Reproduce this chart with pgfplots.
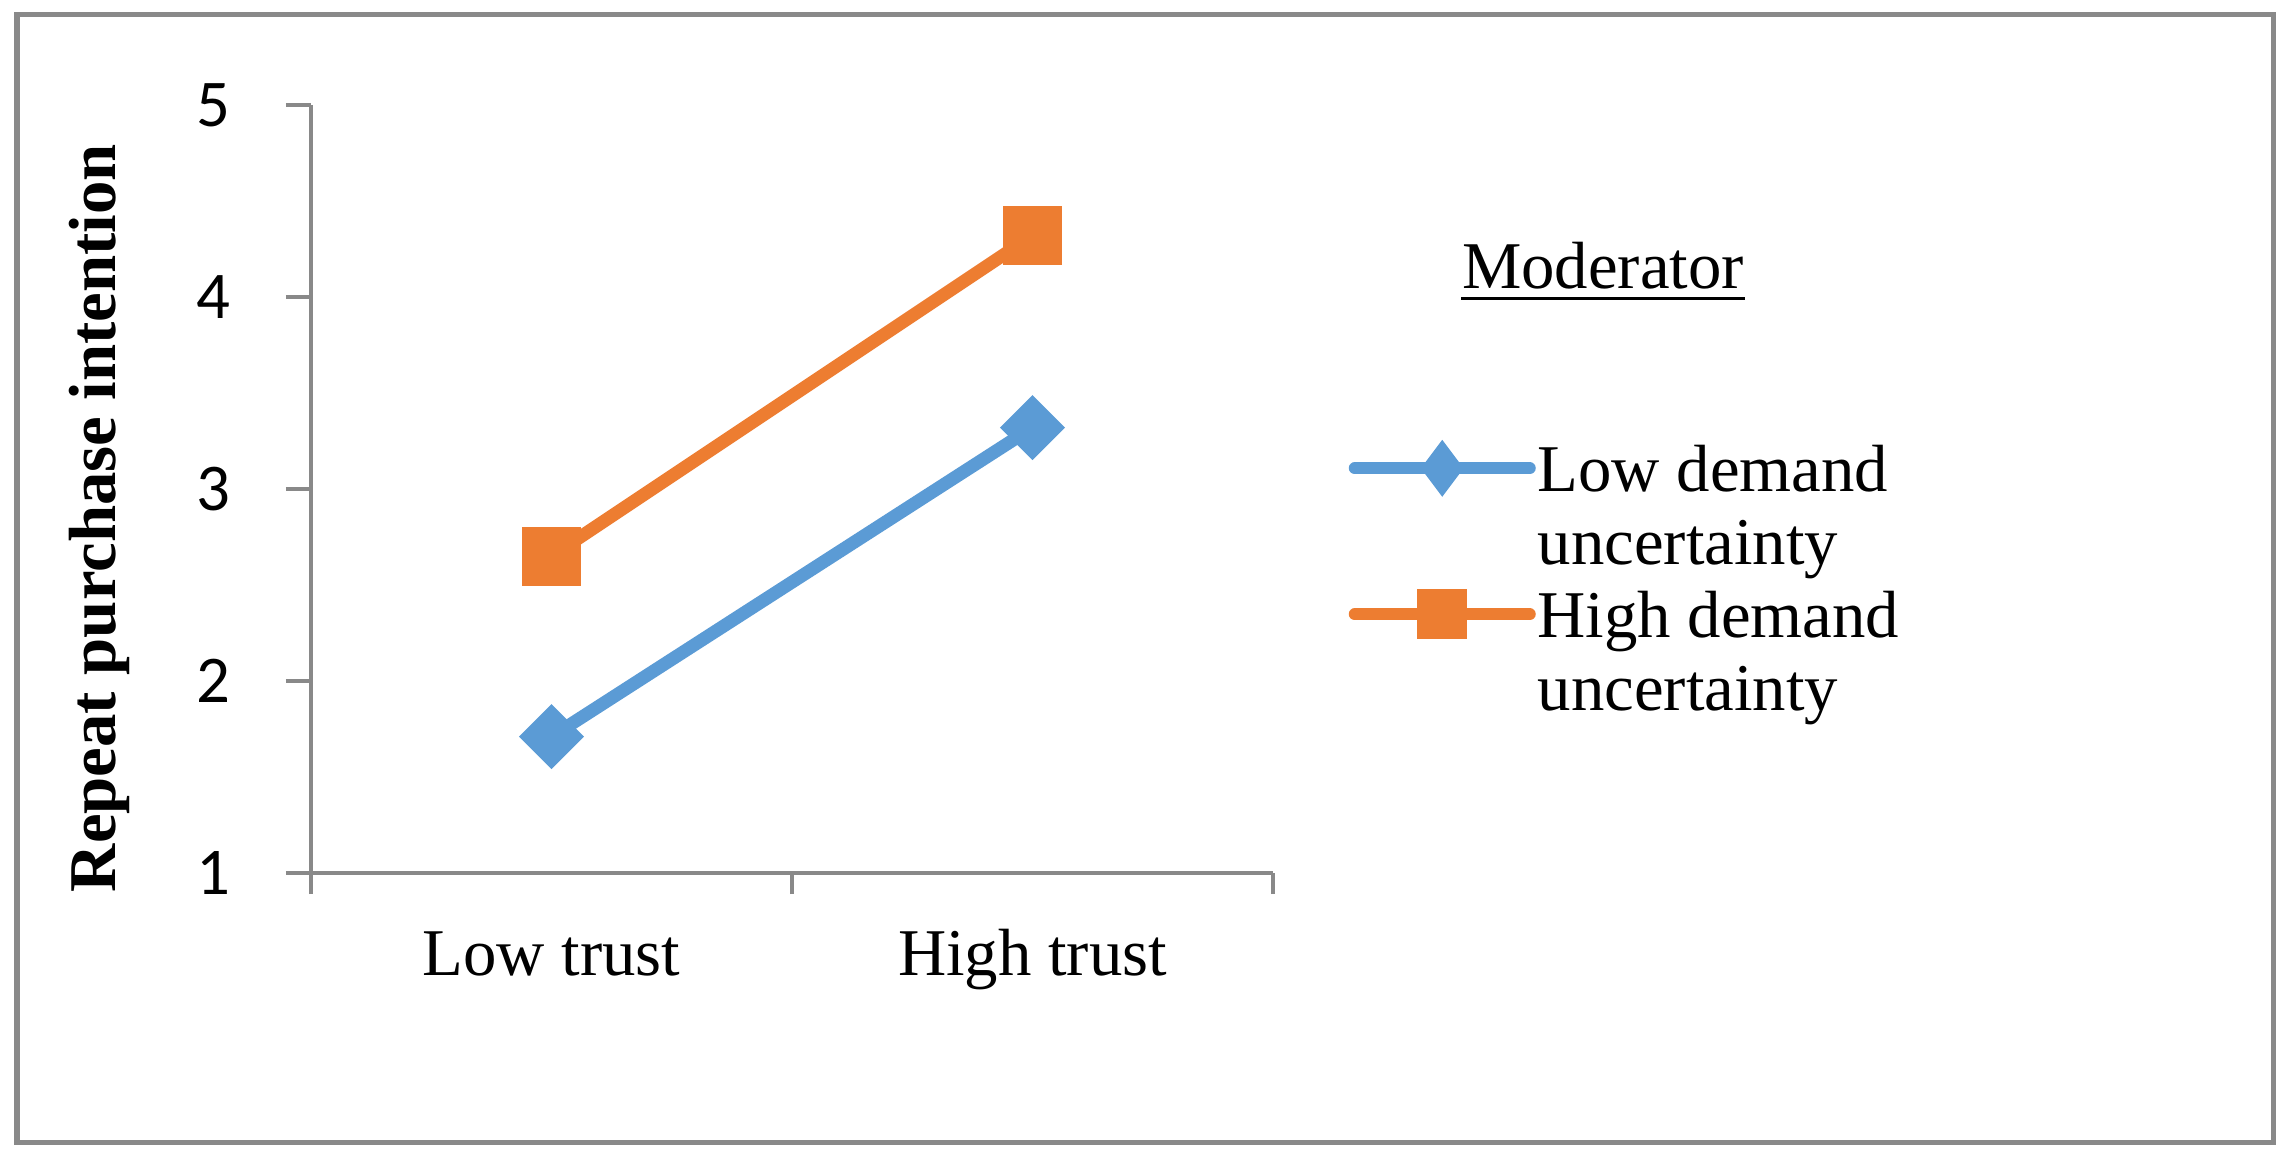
\documentclass[border=0pt]{standalone}
\usepackage{pgfplots}
\pgfplotsset{compat=1.18}
\usepackage{fontspec}
\setmainfont{Liberation Serif}
\newfontfamily\carlito{Carlito}
\definecolor{axgray}{HTML}{898989}
\definecolor{cblue}{HTML}{5B9BD5}
\definecolor{corange}{HTML}{ED7D31}
\begin{document}
\begin{tikzpicture}[x=1cm,y=1cm]
\useasboundingbox (0,0) rectangle (22.86,11.60);
\draw[axgray, line width=0.05cm] (0.17,0.18) rectangle (22.73,11.455);
\begin{axis}[
  at={(3.11cm,2.87cm)}, anchor=south west,
  scale only axis, width=9.62cm, height=7.68cm,
  xmin=0, xmax=2, ymin=1, ymax=5,
  font=\fontsize{19}{22}\selectfont,
  axis lines=left, axis line style={-, axgray, line width=0.04cm},
  xtick={0.5,1.5}, xticklabels={Low trust, High trust},
  minor xtick={0,1,2},
  major x tick style={draw=none},
  minor x tick style={axgray, line width=0.04cm},
  minor tick length=0.21cm,
  ytick={1,2,3,4,5},
  y tick style={axgray, line width=0.04cm},
  major tick length=0.25cm,
  tick align=outside,
  /pgf/number format/assume math mode=true,
  yticklabel style={font=\carlito\fontsize{19}{22}\selectfont, anchor=east, inner sep=0pt, xshift=-0.55cm},
  xticklabel style={anchor=base, inner sep=0pt, yshift=-0.77cm},
  ylabel={Repeat purchase intention},
  ylabel style={font=\bfseries\fontsize{19}{22}\selectfont, at={(axis description cs:-0.2204,0.4622)}, anchor=center},
  legend style={at={(axis description cs:1.078,0.565)}, anchor=north west, draw=none, fill=none, inner sep=0pt, row sep=0pt, column sep=0.02cm, font=\fontsize{19}{22}\selectfont, nodes={inner sep=0pt, text height=0.52cm, text depth=0.21cm}},
  legend cell align=left,
  legend image code/.code={\draw[mark repeat=2,mark phase=2,line cap=round,yshift=0.08cm,#1] plot coordinates {(0cm,0cm)(0.875cm,0cm)(1.75cm,0cm)};},
  clip=false,
]
\addplot[forget plot, cblue, line width=0.13cm, mark=square*, mark size=0.165cm, mark options={solid, rotate=45}] coordinates {(0.5,1.71) (1.5,3.32)};
\addplot[forget plot, corange, line width=0.13cm, mark=square*, mark size=0.23cm, mark options={solid}] coordinates {(0.5,2.65) (1.5,4.32)};
\addlegendimage{cblue, line width=0.12cm, mark=diamond*, mark size=0.185cm, mark options={solid}}
\addlegendentry{Low demand}
\addlegendimage{empty legend}
\addlegendentry{uncertainty}
\addlegendimage{corange, line width=0.12cm, mark=square*, mark size=0.19cm, mark options={solid}}
\addlegendentry{High demand}
\addlegendimage{empty legend}
\addlegendentry{uncertainty}
\end{axis}
\node[anchor=base, inner sep=0pt, font=\fontsize{19}{22}\selectfont] (m) at (16.03,8.71) {Moderator};
\draw[line width=0.03cm] ([yshift=-0.1cm]m.base west) -- ([yshift=-0.1cm]m.base east);
\end{tikzpicture}
\end{document}
